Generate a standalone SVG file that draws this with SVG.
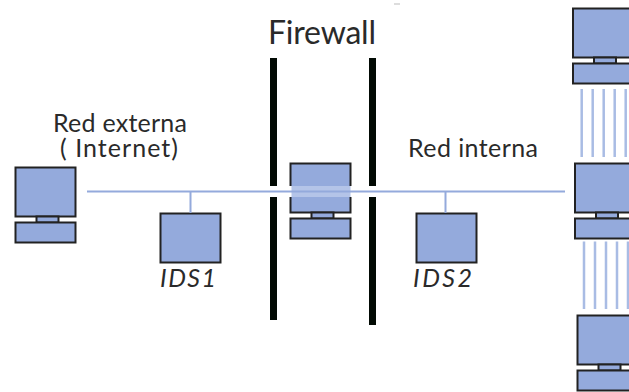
<svg xmlns="http://www.w3.org/2000/svg" width="629" height="392" viewBox="0 0 629 392">
<defs>
<style>
.b{fill:#94aadc;stroke:#222;stroke-width:2}
.l{stroke:#94aadc;stroke-width:2;fill:none}
.s{stroke:#a9bce4;stroke-width:2.500;fill:none}
.w{fill:#020a04}
.t{font-family:Lato,"Liberation Sans",sans-serif;fill:#2a2a2a;font-size:25px}
.i{font-style:italic}
</style>
<g id="pc"><rect class="b" x="0" y="0" width="60" height="49"/><rect class="b" x="21" y="49" width="22" height="6"/><rect class="b" x="0" y="55" width="60" height="20"/></g>
</defs>
<rect width="629" height="392" fill="#fff"/>
<rect x="394" y="3.500" width="6" height="1" fill="#bbb"/>
<g id="firewall-bars"><rect class="w" x="270" y="58" width="7" height="128"/><rect class="w" x="270" y="197" width="7" height="123"/><rect class="w" x="369" y="58" width="7" height="128"/><rect class="w" x="369" y="197" width="7" height="128"/></g>
<g id="n-external"><use href="#pc" x="15.500" y="167.500"/></g>
<g id="n-firewall"><use href="#pc" x="290.500" y="163.500"/><rect x="289" y="186" width="63" height="11" fill="#fff"/><rect x="291.500" y="186" width="59" height="11" fill="#b4c4e8"/></g>
<g id="n-top"><use href="#pc" x="573" y="8.500"/></g>
<g id="n-mid"><use href="#pc" x="575" y="163.500"/></g>
<g id="n-bottom"><use href="#pc" x="577.500" y="315.500"/></g>
<g id="n-ids1"><rect class="b" x="160.500" y="213.500" width="60" height="49"/><text class="t i" x="160" y="287" textLength="56">IDS1</text></g>
<g id="n-ids2"><rect class="b" x="416.500" y="213.500" width="60" height="49"/><text class="t i" x="413" y="287" textLength="59">IDS2</text></g>
<g id="connectors">
<path class="l" d="M87 191.500H565M190.500 191.500V213M445.500 191.500V213"/>
<path class="s" d="M581.700 89V157M592.700 89V157M603.700 89V157M614.700 89V157M625.700 89V157M584 241.500V309M595 241.500V309M606 241.500V309M617 241.500V309M628 241.500V309"/>
</g>
<text class="t" x="268" y="44" textLength="108" style="font-size:32px">Firewall</text>
<text class="t" x="53" y="132" textLength="134">Red externa</text>
<text class="t" x="60" y="157" textLength="118">( Internet)</text>
<text class="t" x="408" y="157" textLength="130">Red interna</text>
</svg>
